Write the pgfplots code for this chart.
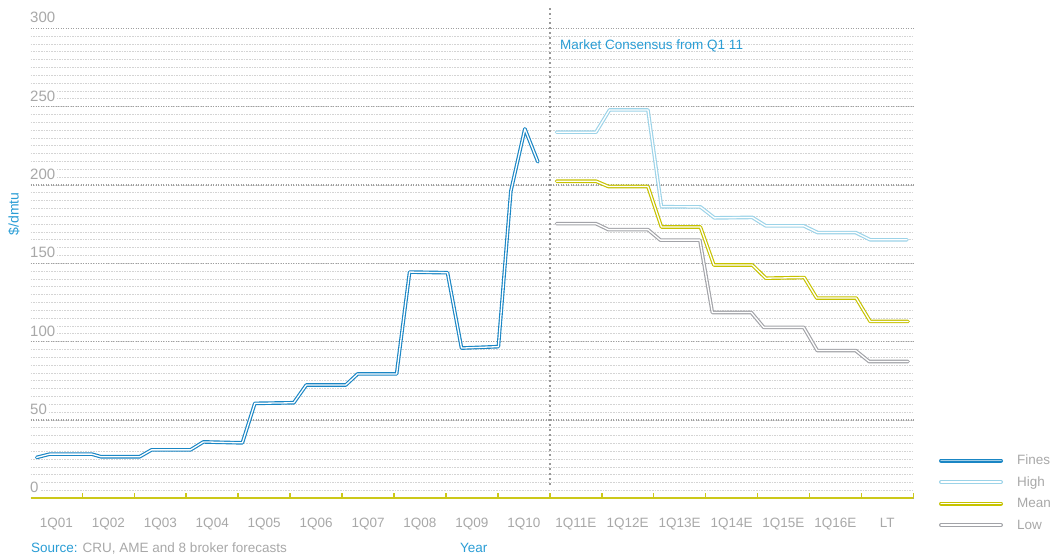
\documentclass[border=0pt]{standalone}
\usepackage{pgfplots}
\pgfplotsset{compat=1.18}
\usepackage{fontspec}
\setmainfont{Liberation Sans}

\definecolor{finesblue}{HTML}{1A86C4}
\definecolor{highblue}{HTML}{9CD3E8}
\definecolor{meanyel}{HTML}{C6C200}
\definecolor{lowgray}{HTML}{A2A3A8}
\definecolor{axisyel}{HTML}{CCC81A}
\definecolor{labelblue}{HTML}{2A9DD5}
\definecolor{labelgray}{HTML}{A8A8A8}
\definecolor{majorgrid}{HTML}{A0A0A0}
\definecolor{minorgrid}{HTML}{D4D4D4}
\definecolor{divider}{HTML}{999999}

% double-stroke series line: coloured outline, white core
\tikzset{dl/.style={draw=#1, double=white, double distance=1.3pt,
  line width=1.15pt, line join=round, line cap=round},
  key/.style={draw=#1, double=white, double distance=1.5pt,
  line width=1.25pt, line cap=round}}

\newcommand{\lbl}{\fontsize{13.5}{14}\selectfont}

\begin{document}
\begin{tikzpicture}[x=1pt,y=1pt]
\begin{axis}[
  set layers,
  at={(30.5pt,-498.3pt)}, anchor=south west,
  scale only axis, width=882.8pt, height=493.5pt,
  xmin=0, xmax=17, ymin=0, ymax=315,
  axis x line*=bottom, axis y line*=left,
  x axis line style={draw=axisyel, line width=2pt, -},
  y axis line style={draw=none},
  tick align=inside,
  major tick length=5.5pt, minor tick length=0pt,
  xtick={1,...,17}, xticklabels={},
  xtick style={draw=axisyel, line width=1.6pt},
  extra x ticks={0.5,1.5,...,16.5},
  extra x tick labels={1Q01,1Q02,1Q03,1Q04,1Q05,1Q06,1Q07,1Q08,1Q09,1Q10,
    1Q11E,1Q12E,1Q13E,1Q14E,1Q15E,1Q16E,LT},
  extra x tick style={major tick length=0pt,
    xticklabel style={anchor=base, yshift=-28.7pt, font=\lbl, text=labelgray}},
  ytick={0,50,...,300},
  minor ytick={5,10,...,295},
  ymajorgrids, yminorgrids,
  major grid style={draw=majorgrid, line width=1.1pt, dash pattern=on 1.1pt off 1.4pt},
  minor grid style={draw=minorgrid, line width=0.9pt, dash pattern=on 1.6pt off 1pt},
  ytick style={draw=none},
  /pgf/number format/assume math mode=true,
  yticklabel style={anchor=west, xshift=-2.5pt, yshift=10.8pt, fill=white,
    inner xsep=2pt, inner ysep=1pt, font=\fontsize{15}{15}\selectfont, text=labelgray},
]

% divider between actual prices and forecasts
\addplot[forget plot, draw=divider, line width=1.9pt, dash pattern=on 1.9pt off 3pt]
  coordinates {(10,8.5) (10,313)};

% Fines: actual quarterly price
\addplot[dl=finesblue] coordinates {
 (0.12,26.1) (0.37,28.2) (1.18,28.2) (1.36,26.5) (2.10,26.5) (2.33,30.9)
 (3.08,30.9) (3.33,36.0) (4.08,35.4) (4.32,60.6) (5.07,61.0) (5.31,72.3)
 (6.07,72.3) (6.30,79.4) (7.05,79.4) (7.30,144.4) (8.03,144.0) (8.30,95.9)
 (9.01,96.8) (9.25,196.1) (9.52,235.8) (9.77,214.8)};

% High forecast
\addplot[dl=highblue] coordinates {
 (10.13,233.7) (10.89,233.7) (11.15,247.9) (11.89,247.9) (12.15,186.1)
 (12.90,186.0) (13.17,179.0) (13.90,179.3) (14.16,173.9) (14.89,173.9)
 (15.16,169.6) (15.89,169.6) (16.17,165.0) (16.88,165.0)};

% Mean forecast
\addplot[dl=meanyel] coordinates {
 (10.13,202.4) (10.89,202.4) (11.13,199.0) (11.89,199.0) (12.15,173.2)
 (12.90,173.2) (13.16,148.9) (13.90,148.9) (14.16,140.5) (14.90,140.9)
 (15.14,127.8) (15.90,127.8) (16.17,112.9) (16.90,112.9)};

% Low forecast
\addplot[dl=lowgray] coordinates {
 (10.13,175.3) (10.89,175.3) (11.13,171.5) (11.89,171.5) (12.13,164.8)
 (12.89,164.8) (13.13,118.6) (13.88,118.6) (14.12,109.1) (14.89,109.1)
 (15.15,94.3) (15.89,94.3) (16.15,87.3) (16.90,87.3)};
\end{axis}

% annotations
\node[anchor=west, inner sep=0pt, font=\lbl, text=labelblue] at (560,-46)
  {Market Consensus from Q1 11};
\node[rotate=90, inner sep=0pt, font=\fontsize{14}{14}\selectfont, text=labelblue]
  at (14,-214) {\$/dmtu};
\node[anchor=base west, inner sep=0pt, font=\lbl, text=labelgray] at (31,-552.5)
  {\textcolor{labelblue}{Source:} CRU, AME and 8 broker forecasts};
\node[anchor=base west, inner sep=0pt, font=\lbl, text=labelblue] at (460,-552.5) {Year};

% legend
\draw[key=finesblue, double=finesblue!40] (941,-460.5) -- (1001,-460.5);
\node[anchor=base west, inner sep=0pt, font=\lbl, text=labelgray] at (1017,-464.8) {Fines};
\draw[key=highblue] (941,-482) -- (1001,-482);
\node[anchor=base west, inner sep=0pt, font=\lbl, text=labelgray] at (1017,-486.3) {High};
\draw[key=meanyel] (941,-503.5) -- (1001,-503.5);
\node[anchor=base west, inner sep=0pt, font=\lbl, text=labelgray] at (1017,-507.8) {Mean};
\draw[key=lowgray] (941,-525) -- (1001,-525);
\node[anchor=base west, inner sep=0pt, font=\lbl, text=labelgray] at (1017,-529.3) {Low};

% page extent
\pgfresetboundingbox
\useasboundingbox (0,0) rectangle (1055,-555);
\end{tikzpicture}
\end{document}
